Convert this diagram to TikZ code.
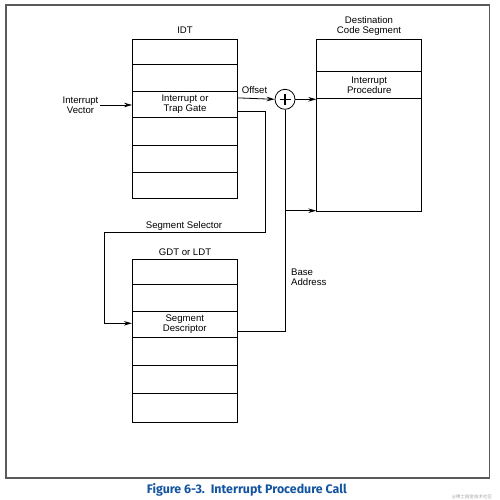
\documentclass[tikz,border=0pt]{standalone}
\usepackage{fontspec}
\setmainfont{Liberation Sans}
\newfontfamily\capfont{Fira Sans}
\newfontfamily\cjkfont{Noto Sans CJK SC}
\usetikzlibrary{arrows.meta,calc}
\definecolor{capblue}{RGB}{18,84,160}
\definecolor{framegray}{RGB}{90,90,90}
\begin{document}
\begin{tikzpicture}[x=1pt,y=-1pt,
  every node/.style={font=\fontsize{9.6}{10.4}\selectfont, inner sep=0pt, align=center},
  row/.style={draw, line width=0.8pt, minimum width=105pt},
  conn/.style={line width=0.8pt},
  arr/.style={conn, -{Stealth[length=8pt,width=4.5pt]}},
  lbl/.style={align=center}]
\useasboundingbox (0,0) rectangle (499,500);
\draw[framegray, line width=1.3pt] (6,5) rectangle (489.5,478);
% IDT
\node[lbl] (idtl) at (185,30.5) {IDT};
\node[row, minimum height=25pt] (i1) at (185,51.8) {};
\node[row, minimum height=27pt] (i2) at (185,77.8) {};
\node[row, minimum height=26pt] (i3) at (185,104.3) {Interrupt or\\Trap Gate};
\node[row, minimum height=28pt] (i4) at (185,131.3) {};
\node[row, minimum height=27pt] (i5) at (185,158.8) {};
\node[row, minimum height=26.4pt] (i6) at (185,185.5) {};
% Destination
\node[lbl] (dl) at (369,26) {Destination\\Code Segment};
\node[row, minimum height=32.4pt] (d1) at (369.2,55.5) {};
\node[row, minimum height=26.6pt] (d2) at (369.2,85) {Interrupt\\Procedure};
\node[row, minimum height=113.4pt] (d3) at (369.2,155) {};
% GDT
\node[lbl] (gl) at (185,252.3) {GDT or LDT};
\node[row, minimum height=25pt] (g1) at (184.8,271.8) {};
\node[row, minimum height=26.7pt] (g2) at (184.8,297.65) {};
\node[row, minimum height=26.3pt] (g3) at (184.8,324.15) {Segment\\Descriptor};
\node[row, minimum height=28pt] (g4) at (184.8,351.3) {};
\node[row, minimum height=28.4pt] (g5) at (184.8,379.5) {};
\node[row, minimum height=28.3pt] (g6) at (184.8,407.85) {};
% adder
\node[draw, circle, line width=0.8pt, minimum size=20pt] (plus) at (285,99.3) {};
\draw[line width=1.3pt] ($(plus.center)+(-5.5,0)$) -- ($(plus.center)+(5.5,0)$)
  ($(plus.center)+(0,-5.5)$) -- ($(plus.center)+(0,5.5)$);
% labels
\node[lbl] (iv) at (80.5,105) {Interrupt\\Vector};
\node[lbl] (off) at (254.5,90) {Offset};
\node[lbl] (ss) at (184,226) {Segment Selector};
\node[lbl, align=left, anchor=west] (ba) at (291,277) {Base\\Address};
% connectors
\draw[arr] (iv.east) ++(1,0) coordinate (ivs) -- (ivs -| i3.west);
\draw[arr] ([yshift=-7pt]i3.north east) -- (plus.west);
\draw[arr] (plus.east) -- (plus.east -| d3.west);
\coordinate (s1) at (265,111);
\coordinate (s2) at (265,232.3);
\coordinate (s3) at (104,232.3);
\coordinate (s4) at (104,323.3);
\draw[conn] (s1 -| i3.east) -- (s1) -- (s2) -- (s3) -- (s4);
\draw[arr] (s4) -- (s4 -| g3.west);
\coordinate (b1) at (285,331);
\coordinate (b2) at (285,210.7);
\draw[conn] (b1 -| g3.east) -- (b1) -- (plus.south);
\draw[arr] (b2) -- (b2 -| d3.west);
% caption
\node[font=\capfont\bfseries\fontsize{12.4}{14}\selectfont, text=capblue] (cap) at (246.8,490) {Figure 6-3.\ \ Interrupt Procedure Call};
\node[font=\cjkfont\fontsize{4.5}{5}\selectfont, text=gray!70] (wm) at (472,497) {@稀土掘金技术社区};
\end{tikzpicture}
\end{document}
